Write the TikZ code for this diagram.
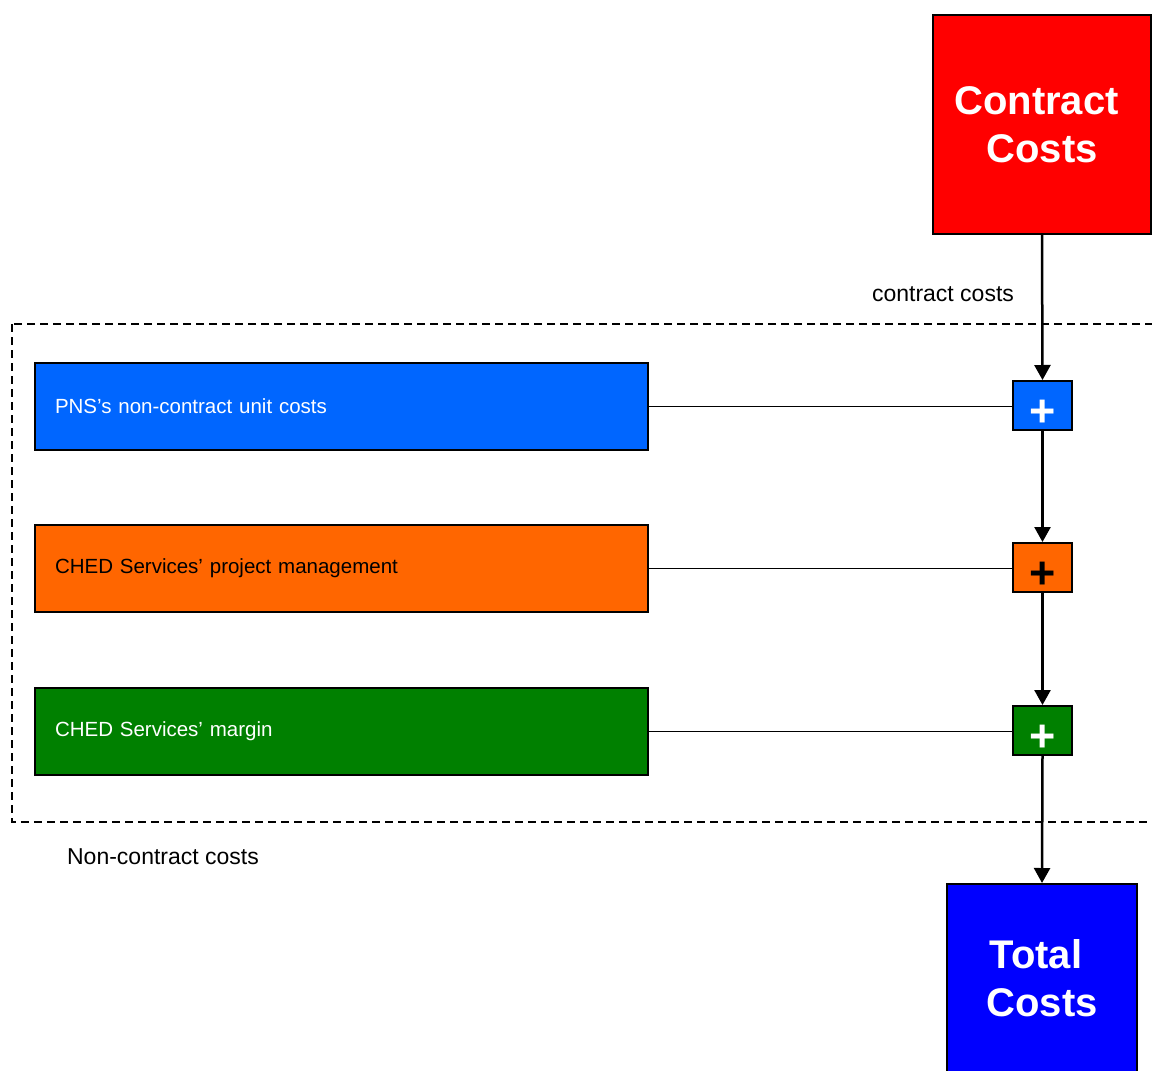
\documentclass[tikz,border=0pt]{standalone}
\usepackage{fontspec}
\setmainfont{Liberation Sans}
\usetikzlibrary{arrows.meta}
\definecolor{contractred}{HTML}{FF0000}
\definecolor{unitblue}{HTML}{0066FF}
\definecolor{pmorange}{HTML}{FF6600}
\definecolor{margingreen}{HTML}{008000}
\definecolor{totalblue}{HTML}{0000FF}
% plus sign set low in its box
\newcommand{\sumsign}{\smash{\raisebox{-20.5pt}{+}}}
\begin{document}
\begin{tikzpicture}[x=1pt,y=-1pt,
  bigbox/.style={draw=black, line width=2pt, minimum width=218pt, minimum height=219pt,
    inner sep=0pt, text=white, align=center, font=\fontsize{40}{48}\selectfont\bfseries},
  costbar/.style={draw=black, line width=2pt, minimum width=613pt, minimum height=87pt,
    anchor=north west, inner xsep=20pt, text width=573pt, align=left,
    font=\fontsize{20.5}{24}\selectfont},
  sumbox/.style={draw=black, line width=2pt, minimum width=59pt, minimum height=49pt,
    inner sep=0pt, font=\fontsize{45}{45}\selectfont\bfseries},
  feed/.style={line width=1.5pt},
  flow/.style={line width=2.5pt, -{Triangle[length=15pt,width=16pt]}},
  caption/.style={font=\fontsize{23}{27}\selectfont}
]
\useasboundingbox (0,0) rectangle (1152,1071);
\clip (0,0) rectangle (1152,1071);

% grouping frame for the non-contract items
\draw[line width=2pt, dash pattern=on 8pt off 5pt] (12,324) rectangle (1170,822);

% sources and result
\node[bigbox, fill=contractred] (contract) at (1042,124.5) {Contract\hspace*{11pt}\\Costs};
\node[bigbox, fill=totalblue, minimum width=190pt, minimum height=188pt] (total) at (1042,978) {Total\hspace*{12pt}\\Costs};

% non-contract cost items
\node[costbar, fill=unitblue, text=white] (units) at (34,362) {PNS’s non-contract unit costs};
\node[costbar, fill=pmorange, text=black] (pm) at (34,524) {CHED Services’ project management};
\node[costbar, fill=margingreen, text=white] (margin) at (34,687) {CHED Services’ margin};

% summing junctions
\node[sumbox, fill=unitblue, text=white] (sum1) at (1042.5,405.5) {\sumsign};
\node[sumbox, fill=pmorange, text=black] (sum2) at (1042.5,567.5) {\sumsign};
\node[sumbox, fill=margingreen, text=white] (sum3) at (1042.5,730.5) {\sumsign};

% feeds into the junctions
\draw[feed] (units.east) -- (units.east -| sum1.west);
\draw[feed] (pm.east) -- (pm.east -| sum2.west);
\draw[feed] (margin.east) -- (margin.east -| sum3.west);

% main flow
\draw[flow] (contract.south) -- (sum1.north);
\draw[flow] (sum1.south) -- (sum2.north);
\draw[flow] (sum2.south) -- (sum3.north);
\draw[flow] (sum3.south) -- (total.north);

% captions
\node[caption] (lblcontract) at (943,294) {contract costs};
\node[caption] (lblnoncontract) at (163,857) {Non-contract costs};
\end{tikzpicture}
\end{document}
